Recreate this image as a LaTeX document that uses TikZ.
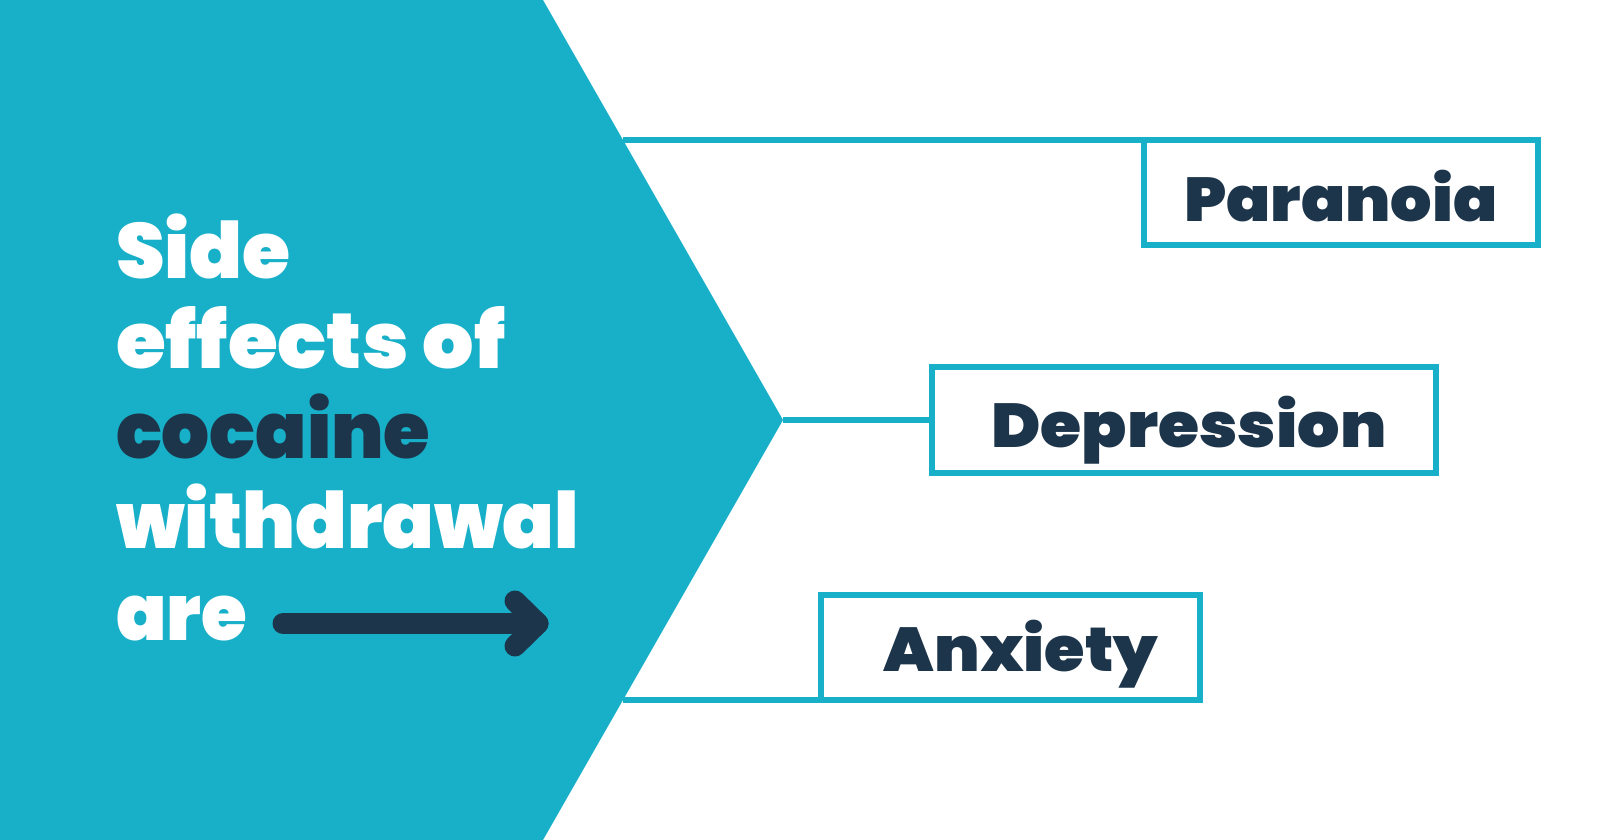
\documentclass[tikz,border=0pt]{standalone}
\usepackage{fontspec}
\usepackage{graphicx}
\newfontfamily\heavy{Poppins Black}
\definecolor{teal1}{HTML}{18AFC8}
\definecolor{navy}{HTML}{1D354A}
\begin{document}
\begin{tikzpicture}[x=1pt,y=-1pt,
  box/.style={draw=teal1,line width=6pt,rectangle,inner sep=0pt,outer sep=0pt,fill=white},
  conn/.style={draw=teal1,line width=6pt},
  lefttext/.style={anchor=base west,inner sep=0pt,outer sep=0pt,font=\heavy\fontsize{78}{78}\selectfont},
  label/.style={anchor=base,inner sep=0pt,outer sep=0pt,text=navy,font=\heavy\fontsize{62}{62}\selectfont}]
\useasboundingbox (0,0) rectangle (1600,840);
\fill[white] (0,0) rectangle (1600,840);
% big teal chevron
\fill[teal1] (0,0) -- (543,0) -- (783,420) -- (543,840) -- (0,840) -- cycle;
\coordinate (e1) at (623,140);
\coordinate (apex) at (783,420);
\coordinate (e3) at (623,700);
% boxes
\node[box,minimum width=394pt,minimum height=105pt] (pbox) at (1341,192.5) {};
\node[box,minimum width=504pt,minimum height=106pt] (dbox) at (1184,420) {};
\node[box,minimum width=379pt,minimum height=105pt] (abox) at (1010.5,647.5) {};
% connectors
\draw[conn] (e1) -- (pbox.north west);
\draw[conn] (apex) -- (dbox.west);
\draw[conn] (e3) -- (abox.south west);
% labels
\node[label] (ptext) at (1341,221) {\scalebox{1.05}[1]{Paranoia}};
\node[label] (dtext) at (1189,447) {\scalebox{1.074}[1]{Depression}};
\node[label] (atext) at (1021,671) {\scalebox{1.056}[1]{Anxiety}};
% left text
\node[lefttext,text=white] (l1) at (116,278) {\scalebox{0.999}[1]{Side}};
\node[lefttext,text=white] (l2) at (116,368) {\scalebox{1.036}[1]{effects of}};
\node[lefttext,text=navy] (l3) at (116,458) {\scalebox{0.967}[1]{cocaine}};
\node[lefttext,text=white] (l4) at (116,548) {\scalebox{0.975}[1]{withdrawal}};
\node[lefttext,text=white] (l5) at (116,640) {\scalebox{0.951}[1]{are}};
% arrow
\coordinate (as) at (283,623.5);
\coordinate (ae) at (538,623.5);
\draw[navy,line width=21pt,line cap=round] (as) -- (ae);
\draw[navy,line width=21pt,line cap=round,line join=round] (515,601) -- (ae) -- (515,646);
\end{tikzpicture}
\end{document}
